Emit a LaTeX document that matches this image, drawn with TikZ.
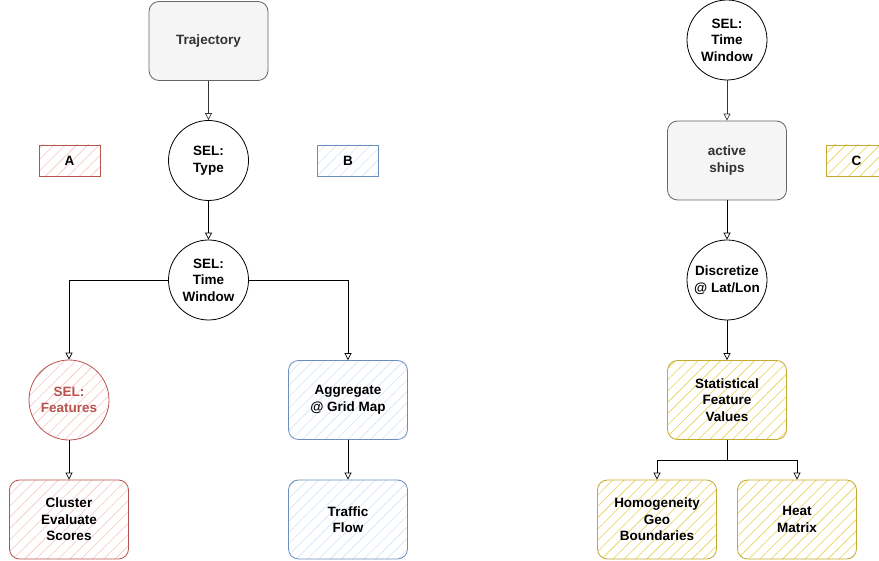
\documentclass[tikz,border=0pt]{standalone}
\usepackage{fontspec}
\setmainfont{Liberation Sans}
\usepackage{tikz}
\usetikzlibrary{arrows.meta,positioning,patterns.meta}
\definecolor{grayfill}{HTML}{F5F5F5}
\definecolor{graydraw}{HTML}{666666}
\definecolor{graytext}{HTML}{333333}
\definecolor{reddraw}{HTML}{B85450}
\definecolor{redhatch}{HTML}{F5C4C2}
\definecolor{bluedraw}{HTML}{6C8EBF}
\definecolor{bluehatch}{HTML}{D2E2F6}
\definecolor{yeldraw}{HTML}{C4AA2E}
\definecolor{yelhatch}{HTML}{E8CF52}

\begin{document}
\begin{tikzpicture}[x=1pt, y=-1pt, >={Triangle[open, length=7pt, width=7pt]},
  every node/.style={align=center, font=\fontsize{13.5}{16.5}\selectfont\bfseries},
  box/.style={rectangle, rounded corners=10pt, minimum width=119pt, minimum height=79pt, inner sep=0pt, line width=0.8pt},
  sel/.style={circle, draw=black, fill=white, minimum size=80pt, inner sep=0pt, line width=0.8pt},
  tag/.style={rectangle, minimum width=61pt, minimum height=31pt, inner sep=0pt, line width=0.8pt},
  grey/.style={draw=graydraw, fill=grayfill, text=graytext},
  redh/.style={draw=reddraw, pattern={Lines[angle=45, distance=8pt, line width=0.6pt]}, pattern color=redhatch},
  blueh/.style={draw=bluedraw, pattern={Lines[angle=45, distance=8pt, line width=0.6pt]}, pattern color=bluehatch},
  yelh/.style={draw=yeldraw, pattern={Lines[angle=45, distance=8pt, line width=0.6pt]}, pattern color=yelhatch},
  link/.style={->, draw=black, line width=0.7pt}]

  \useasboundingbox (0,0) rectangle (879,561);

  % left tree
  \node[box, grey] (traj) at (208.5, 41) {Trajectory};
  \node[sel] (seltype) at (208.5, 160.5) {SEL:\\Type};
  \node[sel] (selwin) at (208.5, 280) {SEL:\\Time\\Window};
  \node[sel, redh, draw=reddraw, text=reddraw] (selfeat) at (69, 400) {SEL:\\Features};
  \node[box, redh] (cluster) at (69, 519.5) {Cluster\\Evaluate\\Scores};
  \node[box, blueh] (aggr) at (348, 400) {Aggregate\\@ Grid Map};
  \node[box, blueh] (traffic) at (348, 519.5) {Traffic\\Flow};

  % tags
  \node[tag, redh] (tagA) at (69.5, 160.5) {A};
  \node[tag, blueh] (tagB) at (348, 160.5) {B};
  \node[tag, yelh] (tagC) at (856.5, 160.5) {C};

  % right tree
  \node[sel] (selwin2) at (727, 40) {SEL:\\Time\\Window};
  \node[box, grey] (ships) at (727, 160.5) {active\\ships};
  \node[sel] (discr) at (727, 280) {Discretize\\@ Lat/Lon};
  \node[box, yelh] (stats) at (727, 400) {Statistical\\Feature\\Values};
  \node[box, yelh] (homog) at (657, 519.5) {Homogeneity\\Geo\\Boundaries};
  \node[box, yelh] (heat) at (797, 519.5) {Heat\\Matrix};
  \coordinate (fork) at (727, 460);

  % arrows
  \draw[link, draw=graytext] (traj) -- (seltype);
  \draw[link] (seltype) -- (selwin);
  \draw[link] (selwin.west) -| (selfeat.north);
  \draw[link] (selwin.east) -| (aggr.north);
  \draw[link] (selfeat) -- (cluster);
  \draw[link] (aggr) -- (traffic);
  \draw[link, draw=graytext] (selwin2) -- (ships);
  \draw[link] (ships) -- (discr);
  \draw[link] (discr) -- (stats);
  \draw[link] (stats.south) -- (fork) -| (homog.north);
  \draw[link] (fork) -| (heat.north);
\end{tikzpicture}
\end{document}
